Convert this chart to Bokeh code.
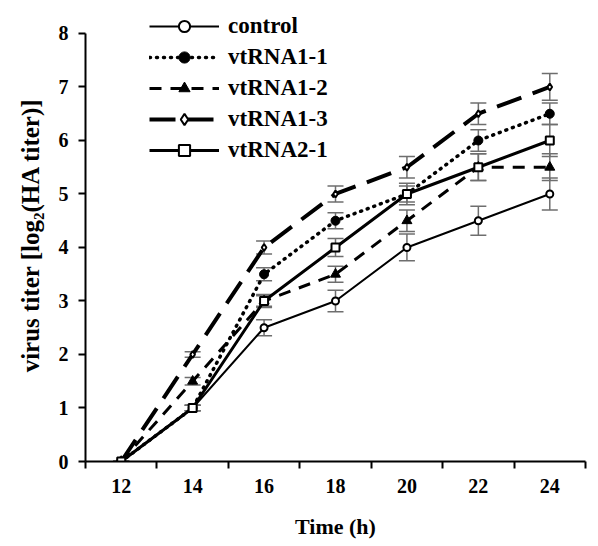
from bokeh.plotting import figure
from bokeh.models import (ColumnDataSource, Whisker, TeeHead, Legend, LegendItem,
                          FixedTicker, Range1d)
from bokeh.embed import file_html
from bokeh.resources import INLINE

hours = [12, 14, 16, 18, 20, 22, 24]
x_ticks = [12, 14, 16, 18, 20, 22, 24]
x_boundaries = [11, 13, 15, 17, 19, 21, 23, 25]
y_ticks = [0, 1, 2, 3, 4, 5, 6, 7, 8]

control = [0, 1, 2.5, 3, 4, 4.5, 5]
control_err = [0, 0.05, 0.15, 0.2, 0.25, 0.27, 0.3]
vtRNA1_1 = [0, 1, 3.5, 4.5, 5, 6, 6.5]
vtRNA1_1_err = [0, 0.05, 0.12, 0.15, 0.15, 0.2, 0.2]
vtRNA1_2 = [0, 1.5, 3, 3.5, 4.5, 5.5, 5.5]
vtRNA1_2_err = [0, 0.07, 0.1, 0.15, 0.2, 0.25, 0.25]
vtRNA1_3 = [0, 2, 4, 5, 5.5, 6.5, 7]
vtRNA1_3_err = [0, 0.05, 0.12, 0.15, 0.2, 0.2, 0.25]
vtRNA2_1 = [0, 1, 3, 4, 5, 5.5, 6]
vtRNA2_1_err = [0, 0.05, 0.12, 0.17, 0.2, 0.25, 0.3]

FONT = "Liberation Serif"

p = figure(width=598, height=546, output_backend="svg", toolbar_location=None,
           x_range=Range1d(11, 25), y_range=Range1d(0, 8.467),
           min_border_left=85, min_border_right=13, min_border_top=8,
           min_border_bottom=85)
p.outline_line_color = None
p.xgrid.visible = False
p.ygrid.visible = False
p.background_fill_color = "white"

# axes
xa = p.xaxis[0]
xa.ticker = FixedTicker(ticks=x_ticks, minor_ticks=x_boundaries)
xa.major_tick_line_color = None
xa.major_tick_out = 7
xa.major_tick_in = 0
xa.minor_tick_line_color = "black"
xa.minor_tick_line_width = 2
xa.minor_tick_out = 7
xa.minor_tick_in = 0
xa.axis_line_width = 2
xa.major_label_standoff = 10
xa.major_label_text_font = FONT
xa.major_label_text_font_style = "bold"
xa.major_label_text_font_size = "20px"
xa.major_label_text_color = "black"
xa.axis_label = "Time (h)"
xa.axis_label_text_font = FONT
xa.axis_label_text_font_style = "bold"
xa.axis_label_text_font_size = "22px"
xa.axis_label_text_color = "black"
xa.axis_label_standoff = 18

ya = p.yaxis[0]
ya.ticker = FixedTicker(ticks=y_ticks, minor_ticks=[])
ya.bounds = (0, 8)
ya.major_tick_line_width = 2
ya.major_tick_out = 7
ya.major_tick_in = 0
ya.axis_line_width = 2
ya.major_label_standoff = 10
ya.major_label_text_font = FONT
ya.major_label_text_font_style = "bold"
ya.major_label_text_font_size = "20px"
ya.major_label_text_color = "black"
ya.axis_label = "virus titer [log\u2082(HA titer)]"
ya.axis_label_text_font = FONT
ya.axis_label_text_font_style = "bold"
ya.axis_label_text_font_size = "25px"
ya.axis_label_text_color = "black"
ya.axis_label_standoff = 12

series = [
    ("control", control, control_err, dict(line_width=2, line_dash="solid"),
     "circle", dict(size=7, fill_color="white", line_width=2)),
    ("vtRNA1-1", vtRNA1_1, vtRNA1_1_err, dict(line_width=3.5, line_dash="1 6", line_cap="round"),
     "circle", dict(size=9, fill_color="black", line_width=1)),
    ("vtRNA1-2", vtRNA1_2, vtRNA1_2_err, dict(line_width=3, line_dash="12 9"),
     "triangle", dict(size=10, fill_color="black", line_width=1)),
    ("vtRNA1-3", vtRNA1_3, vtRNA1_3_err, dict(line_width=4, line_dash="26 12"),
     "diamond", dict(size=7, fill_color="white", line_width=2)),
    ("vtRNA2-1", vtRNA2_1, vtRNA2_1_err, dict(line_width=3, line_dash="solid"),
     "square", dict(size=8, fill_color="white", line_width=2)),
]

items = []
for name, ys, errs, lstyle, marker, mstyle in series:
    src = ColumnDataSource(dict(x=hours, y=ys,
                                lo=[a - e for a, e in zip(ys, errs)],
                                hi=[a + e for a, e in zip(ys, errs)]))
    w = Whisker(source=src, base="x", upper="hi", lower="lo", dimension="height",
                line_color="#6e6e6e", line_width=1.5,
                upper_head=TeeHead(size=16, line_color="#6e6e6e", line_width=1.5),
                lower_head=TeeHead(size=16, line_color="#6e6e6e", line_width=1.5))
    p.add_layout(w)
    r1 = p.line("x", "y", source=src, line_color="black", **lstyle)
    r2 = p.scatter("x", "y", source=src, marker=marker, line_color="black", **mstyle)
    items.append(LegendItem(label=name, renderers=[r1, r2]))

legend = Legend(items=items, location=(64, 297), glyph_width=70, glyph_height=28,
                label_height=28, spacing=3, padding=0, margin=0,
                label_text_font=FONT, label_text_font_style="bold",
                label_text_font_size="23px", label_text_color="black",
                label_standoff=9,
                border_line_color=None, background_fill_alpha=0)
p.add_layout(legend)

open("out.html", "w").write(file_html(p, INLINE))
